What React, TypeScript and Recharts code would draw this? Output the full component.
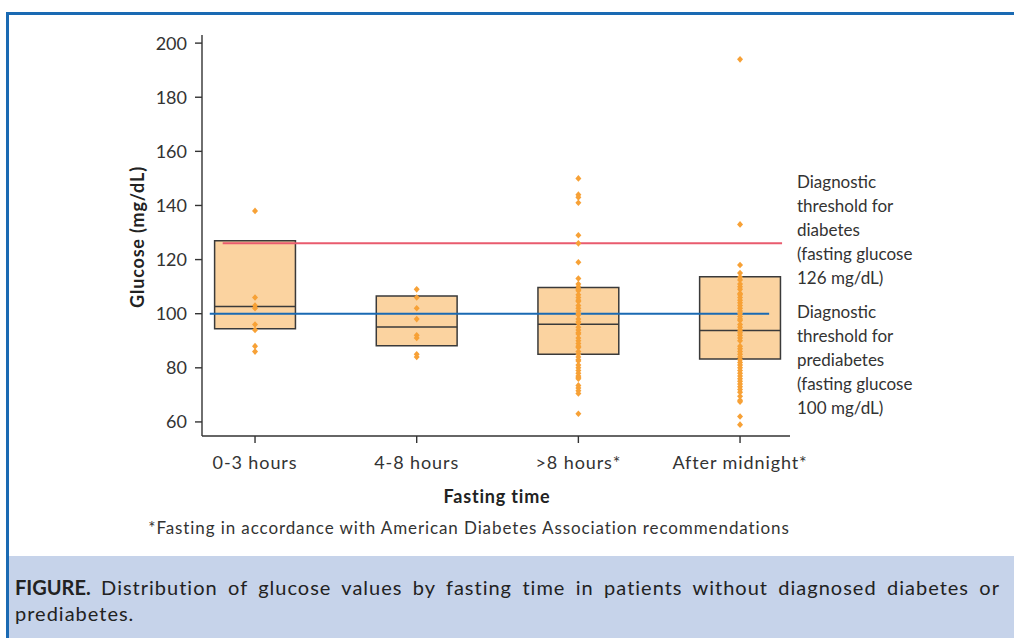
import React from "react";
import {
  ScatterChart,
  Scatter,
  XAxis,
  YAxis,
  ReferenceArea,
  ReferenceLine,
} from "recharts";

// ---- data ----
const categories = ["0-3 hours", "4-8 hours", ">8 hours*", "After midnight*"];
const q1Values = [94.4, 88.2, 85.0, 83.3];
const medianValues = [102.7, 95.1, 96.1, 93.8];
const q3Values = [127.0, 106.5, 109.7, 113.7];

const glucose0to3 = [138, 106, 103, 102, 96, 94, 88, 86];
const glucose4to8 = [109, 106, 102, 98, 92, 91, 85, 84];
const glucoseOver8 = [
  150, 144, 143, 141, 129, 126, 119, 113, 111, 110, 109, 108.5, 107, 106, 105,
  104.5, 103, 102, 101, 100, 99.5, 98, 97, 96.5, 95, 94, 93, 92.5, 91, 90, 89,
  88, 87.5, 86, 85, 84, 83, 82.5, 81, 80, 79, 78, 77, 76.5, 76, 73.5, 72.5, 71.5,
  70.5, 63,
];
const glucoseMidnight = [
  194, 133, 118, 115, 113.5, 112.5, 111, 110, 109, 107.5, 107, 106, 105, 104,
  103, 102, 101, 100, 99, 98, 97.5, 96, 95, 94, 93, 92, 91, 90, 88, 87, 86, 85,
  84, 83, 82, 81, 80, 79, 78, 77, 76, 75, 74, 73, 72, 71, 69.5, 68, 67.5, 62,
  59,
];
const seriesValues = [glucose0to3, glucose4to8, glucoseOver8, glucoseMidnight];

const yTicks = [60, 80, 100, 120, 140, 160, 180, 200];
const diabetesThreshold = 126;
const prediabetesThreshold = 100;

const pointData = seriesValues.flatMap((vals, i) =>
  vals.map((v) => ({ x: i, y: v }))
);

const FONT = "Lato, 'Open Sans', sans-serif";
const TEXT = "#333333";
const BLUE = "#1a6ab3";

const Diamond = (props: any) => {
  const { cx, cy } = props;
  if (cx == null || cy == null) return null;
  return (
    <polygon
      points={`${cx},${cy - 3.3} ${cx + 3},${cy} ${cx},${cy + 3.3} ${cx - 3},${cy}`}
      fill="#f7a136"
    />
  );
};

export default function App() {
  return (
    <div
      style={{
        position: "absolute",
        left: 0,
        top: 0,
        width: 1014,
        height: 638,
        background: "#fff",
        overflow: "hidden",
        fontFamily: FONT,
        color: TEXT,
      }}
    >
      {/* frame */}
      <div style={{ position: "absolute", left: 6, top: 12, width: 1008, height: 3, background: BLUE }} />
      <div style={{ position: "absolute", left: 6, top: 12, width: 3, height: 626, background: BLUE }} />

      <div style={{ position: "absolute", left: 0, top: 0 }}>
        <ScatterChart
          width={1014}
          height={638}
          margin={{ top: 35, right: 224, bottom: 172, left: 142 }}
        >
          <XAxis
            type="number"
            dataKey="x"
            domain={[-0.328, 3.309]}
            ticks={[0, 1, 2, 3]}
            tickFormatter={(v: number) => categories[v] ?? ""}
            allowDataOverflow
            height={30}
            tickSize={7}
            tickMargin={13}
            stroke="#333"
            strokeWidth={1.4}
            tick={{ fill: TEXT, fontSize: 18, fontFamily: FONT, letterSpacing: 0.9 }}
          />
          <YAxis
            type="number"
            dataKey="y"
            domain={[54.8, 203]}
            ticks={yTicks}
            allowDataOverflow
            width={60}
            tickSize={7}
            tickMargin={8}
            stroke="#333"
            strokeWidth={1.4}
            tick={{ fill: TEXT, fontSize: 18, fontFamily: FONT }}
          />
          {categories.map((c, i) => (
            <ReferenceArea
              key={"box" + c}
              x1={i - 0.25}
              x2={i + 0.25}
              y1={q1Values[i]}
              y2={q3Values[i]}
              fill="#fbd3a0"
              fillOpacity={1}
              stroke="#3a3a3a"
              strokeWidth={1.5}
            />
          ))}
          {categories.map((c, i) => (
            <ReferenceLine
              key={"med" + c}
              segment={[
                { x: i - 0.25, y: medianValues[i] },
                { x: i + 0.25, y: medianValues[i] },
              ]}
              stroke="#3a3a3a"
              strokeWidth={1.5}
            />
          ))}
          <Scatter
            data={pointData}
            shape={<Diamond />}
            isAnimationActive={false}
          />
          <ReferenceLine
            segment={[
              { x: -0.2, y: diabetesThreshold },
              { x: 3.26, y: diabetesThreshold },
            ]}
            stroke="#e95b6e"
            strokeWidth={2}
          />
          <ReferenceLine
            segment={[
              { x: -0.28, y: prediabetesThreshold },
              { x: 3.18, y: prediabetesThreshold },
            ]}
            stroke={BLUE}
            strokeWidth={2}
          />
        </ScatterChart>
      </div>

      {/* axis titles */}
      <div
        style={{
          position: "absolute",
          left: 137,
          top: 237,
          transform: "translate(-50%, -50%) rotate(-90deg)",
          whiteSpace: "nowrap",
          fontWeight: 700,
          fontSize: 18,
          letterSpacing: 0.8,
          color: "#222",
        }}
      >
        Glucose (mg/dL)
      </div>
      <div
        style={{
          position: "absolute",
          left: 497,
          top: 496,
          transform: "translate(-50%, -50%)",
          whiteSpace: "nowrap",
          fontWeight: 700,
          fontSize: 18,
          letterSpacing: 0.8,
          color: "#222",
        }}
      >
        Fasting time
      </div>

      {/* threshold annotations */}
      <div style={{ position: "absolute", left: 797, top: 170, fontSize: 17, lineHeight: "24px" }}>
        Diagnostic<br />threshold for<br />diabetes<br />(fasting glucose<br />126 mg/dL)
      </div>
      <div style={{ position: "absolute", left: 797, top: 300, fontSize: 17, lineHeight: "24px" }}>
        Diagnostic<br />threshold for<br />prediabetes<br />(fasting glucose<br />100 mg/dL)
      </div>

      {/* footnote */}
      <div
        style={{
          position: "absolute",
          left: 469,
          top: 527,
          transform: "translate(-50%, -50%)",
          whiteSpace: "nowrap",
          fontSize: 17,
          letterSpacing: 0.9,
        }}
      >
        *Fasting in accordance with American Diabetes Association recommendations
      </div>

      {/* caption */}
      <div
        style={{
          position: "absolute",
          left: 9,
          top: 556,
          width: 1005,
          height: 82,
          background: "#c6d3ea",
          boxSizing: "border-box",
          padding: "18px 14px 0 6px",
          fontSize: 20,
          lineHeight: "26px",
          letterSpacing: 1,
          color: "#222",
        }}
      >
        <div style={{ textAlign: "justify", textAlignLast: "justify", whiteSpace: "nowrap" } as any}>
          <b style={{ letterSpacing: 0 }}>FIGURE.</b>
          <span style={{ whiteSpace: "normal" }}> Distribution of glucose values by fasting time in patients without diagnosed diabetes or</span>
        </div>
        <div>prediabetes.</div>
      </div>
    </div>
  );
}
